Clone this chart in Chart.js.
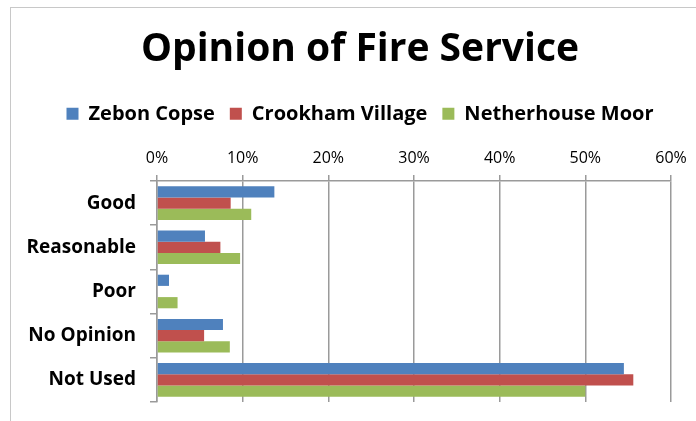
<!DOCTYPE html>
<html lang="en">
<head>
  <meta charset="UTF-8" />
  <title>Opinion of Fire Service</title>
  <style>
    html, body {
      margin: 0;
      padding: 0;
      background: #fff;
      overflow: hidden;
    }

    #wrap {
      position: relative;
      width: 696px;
      height: 421px;
    }

    /* the chart frame runs off the right and bottom edges */
    #frame {
      position: absolute;
      left: 10px;
      top: 7px;
      width: 720px;
      height: 440px;
      border-top: 1px solid #c8c8c8;
      border-left: 1px solid #c8c8c8;
      pointer-events: none;
    }
  </style>
</head>
<body>
  <div id="wrap">
    <canvas id="opinionChart"></canvas>
    <div id="frame"></div>
  </div>

  <script src="https://cdn.jsdelivr.net/npm/chart.js"></script>
  <script>
    // data (percent of respondents)
    const categories = ['Good', 'Reasonable', 'Poor', 'No Opinion', 'Not Used'];
    const zebonCopse = [13.7, 5.6, 1.4, 7.7, 54.5];
    const crookhamVillage = [8.6, 7.4, 0, 5.5, 55.6];
    const netherhouseMoor = [11.0, 9.7, 2.4, 8.5, 50.0];
    const xTickValues = [0, 10, 20, 30, 40, 50, 60];

    const fontFamily = "'Open Sans', 'Noto Sans', sans-serif";
    const gridGrey = '#9a9a9a';

    // extra room under the legend, before the percentage labels
    const legendGap = {
      id: 'legendGap',
      beforeInit(chart) {
        const fit = chart.legend.fit;
        chart.legend.fit = function () {
          fit.bind(chart.legend)();
          this.height += 8;
        };
      }
    };

    const ctx = document.getElementById('opinionChart').getContext('2d');
    new Chart(ctx, {
      type: 'bar',
      data: {
        labels: categories,
        datasets: [
          { label: 'Zebon Copse', data: zebonCopse, backgroundColor: '#4F81BD' },
          { label: 'Crookham Village', data: crookhamVillage, backgroundColor: '#C0504D' },
          { label: 'Netherhouse Moor', data: netherhouseMoor, backgroundColor: '#9BBB59' }
        ]
      },
      options: {
        indexAxis: 'y',
        responsive: true,
        maintainAspectRatio: false,
        animation: false,
        datasets: {
          bar: {
            categoryPercentage: 0.76,
            barPercentage: 1.0
          }
        },
        layout: {
          padding: { left: 24, right: 0, top: 0, bottom: 19 }
        },
        scales: {
          x: {
            position: 'top',
            min: 0,
            max: 60,
            afterBuildTicks: (scale) => {
              scale.ticks = xTickValues.map(v => ({ value: v }));
            },
            ticks: {
              callback: (v) => v + '%',
              color: '#000',
              padding: 7,
              font: { family: fontFamily, size: 16 }
            },
            grid: {
              color: gridGrey,
              lineWidth: 1.5,
              tickLength: 6
            },
            border: { color: gridGrey, width: 1.5 }
          },
          y: {
            afterFit: (scale) => {
              scale.width = 133;
              scale.paddingTop = 0;
              scale.paddingBottom = 0;
            },
            ticks: {
              color: '#000',
              padding: 14,
              font: { family: fontFamily, size: 19, weight: 'bold' }
            },
            grid: {
              drawOnChartArea: false,
              color: gridGrey,
              lineWidth: 1.5,
              tickLength: 7,
              offset: true
            },
            border: { color: gridGrey, width: 1.5 }
          },
          // empty strip on the right so the plot ends where the original does
          yRight: {
            type: 'category',
            position: 'right',
            afterFit: (scale) => { scale.width = 25; },
            ticks: { display: false },
            grid: { display: false },
            border: { display: false }
          }
        },
        plugins: {
          title: {
            display: true,
            text: 'Opinion of Fire Service',
            color: '#000',
            font: { family: fontFamily, size: 39, weight: 'bold' },
            padding: { top: 26, bottom: 16 }
          },
          legend: {
            position: 'top',
            labels: {
              color: '#000',
              boxWidth: 12,
              boxHeight: 12,
              padding: 15,
              font: { family: fontFamily, size: 20, weight: 'bold' }
            }
          },
          tooltip: { enabled: false }
        }
      },
      plugins: [legendGap]
    });
  </script>
</body>
</html>
